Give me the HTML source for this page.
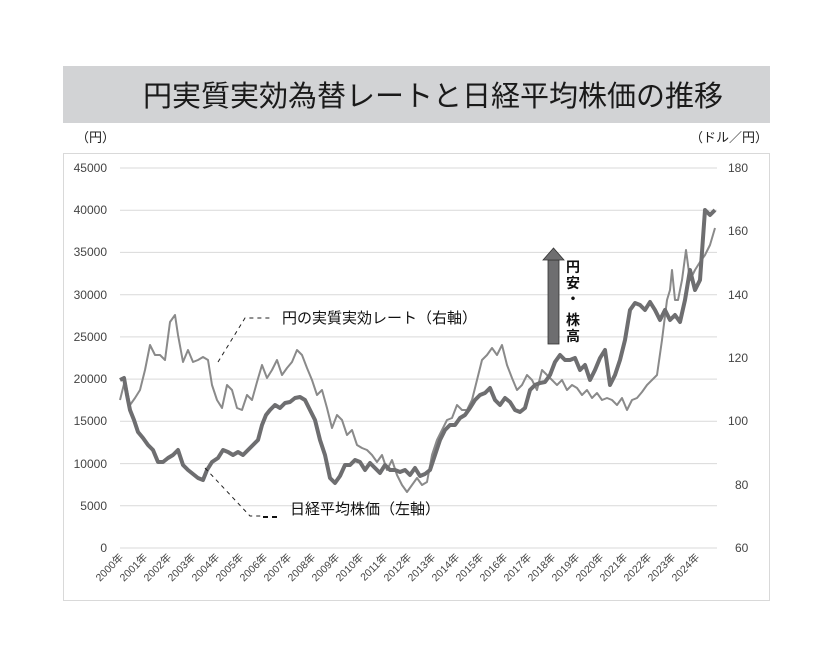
<!DOCTYPE html>
<html><head><meta charset="utf-8"><style>
body{margin:0;background:#fff;width:833px;height:664px;overflow:hidden}
svg{display:block}
text{font-family:"Liberation Sans","Noto Sans CJK JP",sans-serif}
</style></head><body>
<svg width="833" height="664" viewBox="0 0 833 664">
<rect x="63" y="66" width="707" height="57" fill="#d2d3d5"/>
<text x="433" y="106" font-size="29" text-anchor="middle" fill="#1a1a1a" font-family="'Noto Sans CJK JP',sans-serif">円実質実効為替レートと日経平均株価の推移</text>
<text x="76" y="142" font-size="13" fill="#222" font-family="'Noto Sans CJK JP',sans-serif">（円）</text>
<text x="690" y="142" font-size="13" fill="#222" font-family="'Noto Sans CJK JP',sans-serif">（ドル／円）</text>
<rect x="63.5" y="153.5" width="706" height="447" fill="none" stroke="#d9d9d9"/>
<g stroke="#d9d9d9" stroke-width="1">
<line x1="120" x2="717" y1="168" y2="168"/><line x1="120" x2="717" y1="210.2" y2="210.2"/><line x1="120" x2="717" y1="252.4" y2="252.4"/><line x1="120" x2="717" y1="294.7" y2="294.7"/><line x1="120" x2="717" y1="336.9" y2="336.9"/><line x1="120" x2="717" y1="379.1" y2="379.1"/><line x1="120" x2="717" y1="421.3" y2="421.3"/><line x1="120" x2="717" y1="463.6" y2="463.6"/><line x1="120" x2="717" y1="505.8" y2="505.8"/><line x1="120" x2="717" y1="548" y2="548"/>
</g>
<g font-size="12" fill="#444" text-anchor="end">
<text x="107" y="172">45000</text><text x="107" y="214">40000</text><text x="107" y="256">35000</text><text x="107" y="299">30000</text><text x="107" y="341">25000</text><text x="107" y="383">20000</text><text x="107" y="425">15000</text><text x="107" y="468">10000</text><text x="107" y="510">5000</text><text x="107" y="552">0</text>
</g>
<g font-size="12" fill="#444">
<text x="728" y="172">180</text><text x="728" y="235">160</text><text x="728" y="299">140</text><text x="728" y="362">120</text><text x="728" y="425">100</text><text x="735" y="489">80</text><text x="735" y="552">60</text>
</g>
<g font-size="10.5" fill="#444" text-anchor="end">
<text transform="translate(124,558) rotate(-45)">2000年</text><text transform="translate(148,558) rotate(-45)">2001年</text><text transform="translate(172,558) rotate(-45)">2002年</text><text transform="translate(196,558) rotate(-45)">2003年</text><text transform="translate(220,558) rotate(-45)">2004年</text><text transform="translate(244,558) rotate(-45)">2005年</text><text transform="translate(268,558) rotate(-45)">2006年</text><text transform="translate(292,558) rotate(-45)">2007年</text><text transform="translate(316,558) rotate(-45)">2008年</text><text transform="translate(340,558) rotate(-45)">2009年</text><text transform="translate(364,558) rotate(-45)">2010年</text><text transform="translate(388,558) rotate(-45)">2011年</text><text transform="translate(412,558) rotate(-45)">2012年</text><text transform="translate(436,558) rotate(-45)">2013年</text><text transform="translate(460,558) rotate(-45)">2014年</text><text transform="translate(484,558) rotate(-45)">2015年</text><text transform="translate(508,558) rotate(-45)">2016年</text><text transform="translate(532,558) rotate(-45)">2017年</text><text transform="translate(556,558) rotate(-45)">2018年</text><text transform="translate(580,558) rotate(-45)">2019年</text><text transform="translate(604,558) rotate(-45)">2020年</text><text transform="translate(628,558) rotate(-45)">2021年</text><text transform="translate(652,558) rotate(-45)">2022年</text><text transform="translate(676,558) rotate(-45)">2023年</text><text transform="translate(700,558) rotate(-45)">2024年</text>
</g>
<polyline fill="none" stroke="#8a8a8a" stroke-width="2" stroke-linejoin="round" points="120,400 125,380 130,405 135,398 140,390 145,370 150,345 155,355 160,355 165,360 170,322 175,315 178,335 183,362 188,350 193,362 198,360 203,357 208,360 212,385 217,400 222,408 227,385 232,390 237,408 242,410 247,395 252,400 257,382 262,365 267,378 272,370 277,360 282,375 287,368 292,362 297,350 302,355 307,368 312,380 317,395 322,390 327,408 332,428 337,415 342,420 347,435 352,430 357,445 362,448 367,450 372,455 377,462 382,455 387,470 392,460 397,475 402,485 407,492 412,485 417,478 422,485 427,482 432,455 437,440 442,430 447,420 452,418 457,405 462,410 467,410 472,400 477,380 482,360 487,355 492,348 497,355 502,345 507,365 512,378 517,390 522,385 527,375 532,380 537,390 542,370 547,375 552,380 557,385 562,380 567,390 572,385 577,388 582,395 587,390 592,398 597,393 602,400 607,398 612,400 617,405 622,398 627,410 632,400 637,398 642,392 647,385 652,380 657,375 662,340 667,300 670,290 672,270 675,300 678,300 682,280 686,250 690,280 695,270 700,262 705,255 710,245 715,228"/>
<polyline fill="none" stroke="#6e6e70" stroke-width="4" stroke-linejoin="round" points="120,380 124,378 127,395 130,410 134,420 138,432 143,438 148,445 153,450 158,462 163,462 168,458 173,455 178,450 183,465 188,470 193,474 198,478 203,480 207,470 212,462 218,458 223,450 228,452 233,455 238,452 243,455 248,450 253,445 258,440 262,425 266,415 270,410 275,405 280,408 285,403 290,402 295,398 300,397 305,400 310,410 315,420 320,440 325,455 330,478 335,483 340,476 345,465 350,465 355,460 360,462 365,470 370,463 375,468 380,473 385,465 390,470 395,470 400,472 405,470 410,475 415,468 420,476 425,474 430,470 435,455 440,440 445,430 450,425 455,425 460,418 465,415 470,408 475,400 480,395 485,393 490,388 495,400 500,405 505,398 510,402 515,410 520,412 525,408 530,390 535,385 540,383 545,382 550,375 555,362 560,355 565,360 570,360 575,358 580,370 585,365 590,380 595,370 600,358 605,350 610,385 615,375 620,360 625,340 630,310 635,303 640,305 645,310 650,302 655,310 660,320 665,310 670,320 675,315 680,322 685,300 690,270 695,290 700,280 705,210 710,215 715,210"/>
<polyline fill="none" stroke="#222" stroke-width="1" stroke-dasharray="4,4" points="218,362 245,318 272,318"/>
<text x="282" y="323" font-size="15" fill="#111" font-family="'Noto Sans CJK JP',sans-serif">円の実質実効レート（右軸）</text>
<polyline fill="none" stroke="#222" stroke-width="1" stroke-dasharray="4,4" points="205,468 250,516 262,516"/>
<line x1="263" y1="517" x2="278" y2="517" stroke="#111" stroke-width="2" stroke-dasharray="5,4"/>
<text x="290" y="514" font-size="15" fill="#111" font-family="'Noto Sans CJK JP',sans-serif">日経平均株価（左軸）</text>
<rect x="548" y="260" width="11" height="84" fill="#6e6e70" stroke="#333" stroke-width="0.8"/>
<polygon points="543,260 553.5,248 564,260" fill="#6e6e70" stroke="#333" stroke-width="0.8"/>
<g font-size="14" font-weight="bold" fill="#111" font-family="'Noto Sans CJK JP',sans-serif" text-anchor="middle">
<text x="573" y="272">円</text><text x="573" y="288">安</text><text x="573" y="304">・</text><text x="573" y="325">株</text><text x="573" y="341">高</text>
</g>
</svg>
</body></html>
